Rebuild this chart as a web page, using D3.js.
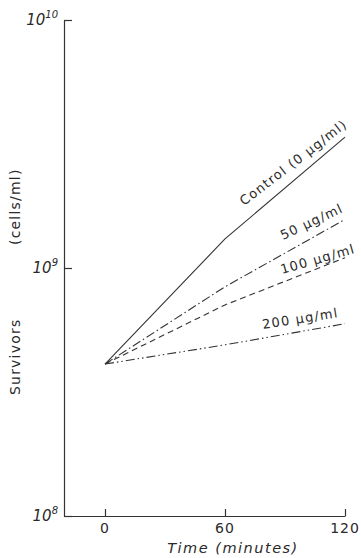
<!DOCTYPE html>
<html>
<head>
<meta charset="utf-8">
<script src="https://cdn.jsdelivr.net/npm/d3@7"></script>
<style>
  body { margin: 0; background: #fff; }
  text { font-family: "DejaVu Sans", sans-serif; fill: #2a2a2a; }
</style>
</head>
<body>
<div id="chart"></div>
<script>
// time points (minutes)
let times = [0, 60, 120];
// survivors (cells/ml)
let control = [4.1e8, 1.31e9, 3.37e9];
let dose50 = [4.1e8, 8.4e8, 1.57e9];
let dose100 = [4.1e8, 7.1e8, 1.10e9];
let dose200 = [4.1e8, 4.9e8, 5.96e8];
let xTicks = [0, 60, 120];
let yTicks = [1e8, 1e9, 1e10];
let yTickExp = ["8", "9", "10"];

let svg = d3.select("#chart")
    .append("svg")
    .attr("width", 361)
    .attr("height", 558);

let x = d3.scaleLinear().domain([-20.5, 120]).range([64, 345]);
let y = d3.scaleLog().domain([1e8, 1e10]).range([516, 20]);

// axes, ticks pointing inward
svg.append("g")
    .attr("transform", "translate(64,0)")
    .call(d3.axisLeft(y).tickValues(yTicks).tickSize(-8).tickSizeOuter(0).tickFormat(""))
    .call(g => g.selectAll("line, path").attr("stroke", "#333").attr("stroke-width", 1.2));

svg.append("g")
    .attr("transform", "translate(0,516)")
    .call(d3.axisBottom(x).tickValues(xTicks).tickSize(-7).tickSizeOuter(0).tickFormat(""))
    .call(g => g.selectAll("line, path").attr("stroke", "#333").attr("stroke-width", 1.2));

// y tick labels 10^n
yTicks.forEach(function (v, i) {
    let t = svg.append("text")
        .attr("x", 58)
        .attr("y", y(v) + 5)
        .attr("text-anchor", "end")
        .style("font-size", "15px")
        .style("font-style", "italic");
    t.append("tspan").text("10");
    t.append("tspan").attr("dy", -7).style("font-size", "10px").text(yTickExp[i]);
});

// x tick labels
svg.selectAll(".xlab")
    .data(xTicks)
    .enter().append("text")
    .attr("x", d => x(d))
    .attr("y", 533)
    .attr("text-anchor", "middle")
    .style("font-size", "14px")
    .style("letter-spacing", "1px")
    .text(d => d);

svg.append("text")
    .attr("x", 233)
    .attr("y", 553)
    .attr("text-anchor", "middle")
    .style("font-size", "14.5px")
    .style("font-style", "italic")
    .style("letter-spacing", "1.5px")
    .text("Time (minutes)");

svg.append("text")
    .attr("transform", "translate(20,395) rotate(-90)")
    .style("font-size", "14px")
    .style("letter-spacing", "1.2px")
    .text("Survivors");

svg.append("text")
    .attr("transform", "translate(20,245) rotate(-90)")
    .style("font-size", "14px")
    .style("letter-spacing", "1.2px")
    .text("(cells/ml)");

// curves
let line = d3.line()
    .x((d, i) => x(times[i]))
    .y(d => y(d));

let series = [
    { vals: control, dash: null },
    { vals: dose50, dash: "9,3,1.5,3" },
    { vals: dose100, dash: "6,4" },
    { vals: dose200, dash: "9,3,1.5,3,1.5,3" }
];

series.forEach(function (s) {
    svg.append("path")
        .attr("d", line(s.vals))
        .attr("fill", "none")
        .attr("stroke", "#333")
        .attr("stroke-width", 1.1)
        .attr("stroke-dasharray", s.dash);
});

// curve labels
let labels = [
    { text: "Control (0 \u03bcg/ml)", x: 244, y: 206, rot: -37.5 },
    { text: "50 \u03bcg/ml", x: 283, y: 240, rot: -25 },
    { text: "100 \u03bcg/ml", x: 282, y: 274, rot: -16 },
    { text: "200 \u03bcg/ml", x: 263, y: 329, rot: -9 }
];

labels.forEach(function (l) {
    svg.append("text")
        .attr("transform", "translate(" + l.x + "," + l.y + ") rotate(" + l.rot + ")")
        .style("font-size", "13px")
        .style("letter-spacing", "1.2px")
        .text(l.text);
});
</script>
</body>
</html>
